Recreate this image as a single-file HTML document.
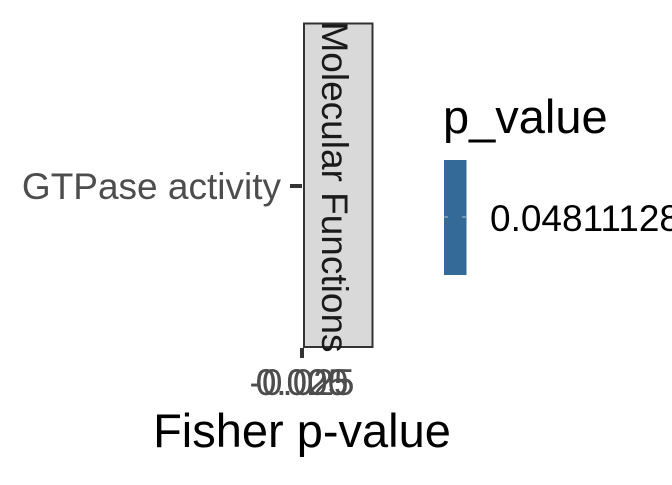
<!DOCTYPE html>
<html><head><style>
body{margin:0;background:#fff;width:672px;height:480px;overflow:hidden;font-family:"Liberation Sans",sans-serif}
</style></head><body>
<svg width="672" height="480" xmlns="http://www.w3.org/2000/svg" font-family="Liberation Sans, sans-serif">
<rect width="672" height="480" fill="#fff"/>
<rect x="304" y="23.5" width="68.5" height="323.5" fill="#d9d9d9" stroke="#333" stroke-width="2"/>
<text transform="translate(322,187) rotate(90)" text-anchor="middle" font-size="37" fill="#1a1a1a">Molecular Functions</text>
<line x1="290" y1="186" x2="302" y2="186" stroke="#333" stroke-width="4"/>
<text x="281" y="199" text-anchor="end" font-size="37" fill="#4d4d4d">GTPase activity</text>
<line x1="302" y1="348" x2="302" y2="358" stroke="#333" stroke-width="4"/>
<g font-size="37" fill="#4d4d4d" text-anchor="middle">
<text x="302" y="395">-0.025</text>
<text x="302" y="395">0.000</text>
<text x="302" y="395">0.025</text>
</g>
<text x="302" y="447" text-anchor="middle" font-size="47" fill="#000">Fisher p-value</text>
<text x="443" y="133" font-size="47" fill="#000">p_value</text>
<rect x="444" y="160" width="22.5" height="115" fill="#336a98"/>
<line x1="444" y1="217" x2="448" y2="217" stroke="#fff" stroke-width="0.6"/>
<line x1="462" y1="217" x2="466" y2="217" stroke="#fff" stroke-width="0.6"/>
<text x="490" y="231" font-size="37" fill="#000">0.04811128</text>
</svg>
</body></html>
